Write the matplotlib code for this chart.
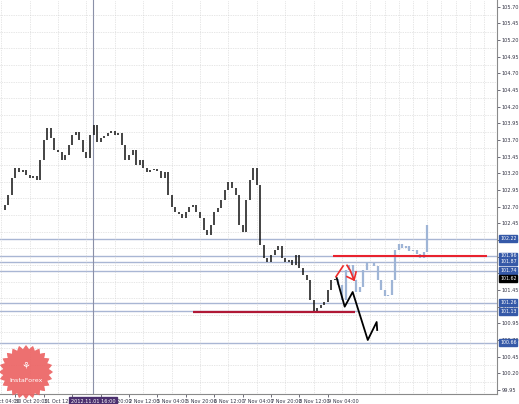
import numpy as np
import matplotlib
matplotlib.use("Agg")
import matplotlib.pyplot as plt
import matplotlib.transforms as mtransforms
from matplotlib.patches import Polygon

# hourly bar index, 0 = 30 Oct 04:00 ; one close every 2 bars
first_bar = 8
closes = [102.65, 102.72, 102.88, 103.13, 103.28, 103.22, 103.25, 103.18, 103.13, 103.16,
          103.10, 103.40, 103.70, 103.88, 103.73, 103.55, 103.52, 103.40, 103.48, 103.62,
          103.78, 103.82, 103.70, 103.52, 103.43, 103.78, 103.92, 103.67, 103.73, 103.76,
          103.80, 103.84, 103.78, 103.80, 103.62, 103.40, 103.48, 103.55, 103.32, 103.40,
          103.28, 103.22, 103.25, 103.26, 103.24, 103.13, 103.22, 102.88, 102.70, 102.62,
          102.59, 102.53, 102.62, 102.70, 102.72, 102.62, 102.53, 102.35, 102.28, 102.42,
          102.62, 102.68, 102.80, 102.95, 103.07, 102.98, 102.88, 102.42, 102.32, 102.80,
          103.10, 103.28, 103.02, 102.12, 101.93, 101.87, 101.98, 102.05, 102.11, 101.93,
          101.87, 101.90, 101.82, 101.98, 101.78, 101.68, 101.60, 101.30, 101.12, 101.18,
          101.22, 101.27, 101.45, 101.60, 101.62]

# projected (pasted) pattern in light blue
proj_first_bar = 198
proj_closes = [101.52, 101.30, 101.75, 101.82, 101.60, 101.42, 101.50, 101.75, 101.87, 101.86,
               101.81, 101.60, 101.45, 101.36, 101.38, 101.60, 102.05, 102.14, 102.08, 102.11,
               102.04, 102.05, 101.99, 101.93, 102.02, 102.43]

# hand-drawn scenarios
black_x = [197, 201.5, 206, 214.5, 219.5, 219.8]
black_y = [101.63, 101.20, 101.42, 100.70, 100.97, 100.85]
red_paths = [
    ([196.6, 200.6], [101.65, 101.81]),
    ([202.8, 204.5, 206.8], [101.82, 101.75, 101.60]),
    ([202.8, 206.8, 207.9], [101.65, 101.60, 101.72]),
]

levels = [102.22, 101.96, 101.87, 101.74, 101.26, 101.13, 100.66]
current_price = 101.62
red_level = (101.96, 194.9, 281.7)
darkred_level = (101.12, 116.0, 207.3)
cross_bar = 59.7
cross_label = "2012.11.01 16:00"

tick_bars = [16, 32, 48, 64, 80, 96, 112, 128, 144, 160, 176, 192]
tick_names = ["30 Oct 20:00", "31 Oct 12:00", "1 Nov 04:00", "1 Nov 20:00", "2 Nov 12:00",
              "5 Nov 04:00", "5 Nov 20:00", "6 Nov 12:00", "7 Nov 04:00", "7 Nov 20:00",
              "8 Nov 12:00", "9 Nov 04:00"]
price_ticks = np.round(np.arange(99.95, 105.71, 0.25), 2)

W, H = 519, 404
fig = plt.figure(figsize=(W / 100, H / 100), dpi=100)
fig.patch.set_facecolor("white")
ax = fig.add_axes([0, 10 / H, 497 / W, 394 / H])

# grid
ax.set_xticks(np.arange(8, 290, 8), minor=True)
ax.set_yticks(np.round(np.arange(99.95, 105.8, 0.125), 3), minor=True)
ax.grid(which="minor", color="#cfcfcf", linestyle=(0, (1, 1.5)), linewidth=0.5)
ax.tick_params(which="minor", length=0)

# horizontal levels
for lv in levels:
    ax.axhline(lv, color="#a9b6d4", linewidth=1.0, zorder=1)
ax.axvline(cross_bar, color="#8a90a8", linewidth=0.8, zorder=1)

# main candles (open = previous close)
bars = first_bar + 2 * np.arange(len(closes))
opens = [closes[0]] + closes[:-1]
ax.vlines(bars, np.minimum(opens, closes), np.maximum(opens, closes),
          color="#111111", linewidth=1.1, zorder=3)

pbars = proj_first_bar + 2 * np.arange(len(proj_closes))
popens = [closes[-1]] + proj_closes[:-1]
ax.vlines(pbars, np.minimum(popens, proj_closes), np.maximum(popens, proj_closes),
          color="#9fb5d6", linewidth=1.6, zorder=3)

# drawn levels and paths
ax.hlines(red_level[0], red_level[1], red_level[2], color="#e8222e", linewidth=1.5, zorder=4)
ax.hlines(darkred_level[0], darkred_level[1], darkred_level[2], color="#b01836",
          linewidth=1.6, zorder=4)
ax.plot(black_x, black_y, color="black", linewidth=1.3, zorder=5)
for xs, ys in red_paths:
    ax.plot(xs, ys, color="#ee2a2a", linewidth=1.2, zorder=5)

# axes look
for s in ["left", "top"]:
    ax.spines[s].set_visible(False)
for s in ["right", "bottom"]:
    ax.spines[s].set_color("#8a8a8a")
    ax.spines[s].set_linewidth(0.8)
ax.yaxis.tick_right()
ax.set_yticks(price_ticks)
ax.set_yticklabels([f"{p:.2f}" for p in price_ticks])
ax.set_xticks(tick_bars)
ax.set_xticklabels(tick_names)
for lab in ax.get_xticklabels():
    lab.set_horizontalalignment("left")
ax.tick_params(axis="both", which="major", labelsize=3.6, colors="#333344",
               length=2, width=0.5, pad=1.5)
ax.set_xlim(7.32, 287.3)
ax.set_ylim(99.89, 105.80)

# partial first label on the left
trx = mtransforms.blended_transform_factory(ax.transData, ax.transAxes)
ax.text(0, -0.012, "30 Oct 04:00", transform=trx, fontsize=3.6, color="#333344",
        ha="left", va="top", clip_on=False)

# price boxes on the right
trp = mtransforms.blended_transform_factory(ax.transAxes, ax.transData)
for lv in levels:
    ax.text(1.006, lv, f"{lv:.2f}", transform=trp, fontsize=3.4, color="white",
            ha="left", va="center", clip_on=False, zorder=10,
            bbox=dict(boxstyle="square,pad=0.15", fc="#3559a8", ec="#3559a8"))
ax.text(1.006, current_price, f"{current_price:.2f}", transform=trp, fontsize=3.4,
        color="white", ha="left", va="center", clip_on=False, zorder=10,
        bbox=dict(boxstyle="square,pad=0.15", fc="black", ec="black"))
ax.text(cross_bar, -0.012, cross_label, transform=trx, fontsize=3.6, color="white",
        ha="center", va="top", clip_on=False, zorder=10,
        bbox=dict(boxstyle="square,pad=0.3", fc="#4b2f6e", ec="#4b2f6e"))

# InstaForex badge (bottom left)
cx, cy, r = 26 / W, 1 - 372 / H, 25
ang = np.linspace(0, 2 * np.pi, 97)
rad = r * (1 + 0.08 * np.cos(24 * ang))
star = Polygon(np.column_stack([cx + rad * np.cos(ang) / W, cy + rad * np.sin(ang) / H]),
               closed=True, transform=fig.transFigure, fc="#ec6464", ec="none",
               alpha=0.92, zorder=20)
fig.patches.append(star)
fig.text(cx, cy + 6 / H, "\u2698", fontsize=7, color="white", ha="center", va="center",
         zorder=21)
fig.text(cx, cy - 8 / H, "InstaForex", fontsize=4.6, color="white", ha="center",
         va="center", zorder=21)

fig.savefig("out.png", dpi=100)
